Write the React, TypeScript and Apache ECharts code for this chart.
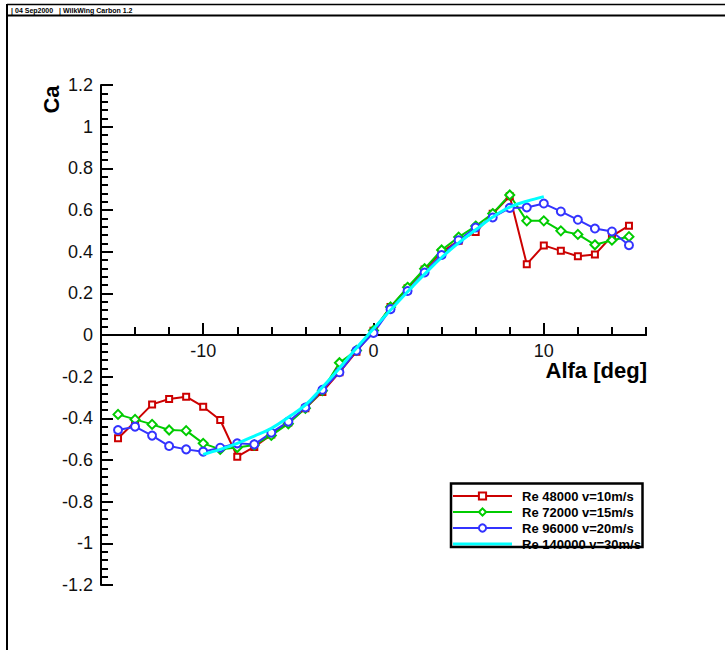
import React, { useEffect, useRef } from "react";
import * as echarts from "echarts";

const ALFA = [-15, -14, -13, -12, -11, -10, -9, -8, -7, -6, -5, -4, -3, -2, -1, 0, 1, 2, 3, 4, 5, 6, 7, 8, 9, 10, 11, 12, 13, 14, 15];
const CA_RE48 = [-0.496, -0.416, -0.333, -0.307, -0.296, -0.344, -0.408, -0.584, -0.537, -0.478, -0.42, -0.352, -0.273, -0.179, -0.08, 0.02, 0.135, 0.225, 0.314, 0.398, 0.453, 0.494, 0.582, 0.666, 0.34, 0.43, 0.404, 0.378, 0.386, 0.475, 0.525];
const CA_RE72 = [-0.381, -0.405, -0.429, -0.456, -0.459, -0.52, -0.549, -0.54, -0.528, -0.482, -0.426, -0.352, -0.267, -0.133, -0.074, 0.022, 0.135, 0.229, 0.318, 0.408, 0.47, 0.523, 0.583, 0.672, 0.548, 0.548, 0.5, 0.483, 0.433, 0.455, 0.472];
const CA_RE96 = [-0.456, -0.44, -0.483, -0.533, -0.549, -0.56, -0.541, -0.52, -0.525, -0.469, -0.416, -0.348, -0.263, -0.179, -0.075, 0.01, 0.124, 0.211, 0.3, 0.384, 0.455, 0.516, 0.564, 0.61, 0.612, 0.631, 0.593, 0.553, 0.511, 0.497, 0.431];
const ALFA_RE140 = [-10, -9, -8, -7, -6, -5, -4, -3, -2, -1, 0, 1, 2, 3, 4, 5, 6, 7, 8, 9, 10];
const CA_RE140 = [-0.573, -0.549, -0.52, -0.485, -0.448, -0.395, -0.336, -0.251, -0.16, -0.062, 0.03, 0.12, 0.208, 0.292, 0.372, 0.442, 0.505, 0.566, 0.614, 0.642, 0.664];

const SERIES_NAMES = ["Re 48000 v=10m/s", "Re 72000 v=15m/s", "Re 96000 v=20m/s", "Re 140000 v=30m/s"];
const X_LABELS = [-10, 0, 10];
const X_MAJOR_TICKS = [-10, 0, 10];
const X_MIN = -16;
const X_MAX = 16;
const Y_MIN = -1.2;
const Y_MAX = 1.2;
const HEADER_DATE = "04 Sep2000";
const HEADER_TITLE = "WilkWing Carbon 1.2";

const FONT = "'Liberation Sans', Arial, Helvetica, sans-serif";

const pairs = (xs: number[], ys: number[]) => xs.map((x, i) => [x, ys[i]]);

export default function App() {
  const ref = useRef<HTMLDivElement>(null);
  useEffect(() => {
    if (!ref.current) return;
    const chart = echarts.init(ref.current, null, { renderer: "svg" });
    const axisLineStyle = { color: "#000", width: 2 };
    const gridH = 500;
    const gridBox = { left: 101, top: 85, width: 545, height: gridH, containLabel: false };
    // move the x axis from the grid bottom up to Ca = 0
    const zeroOffset = -((0 - Y_MIN) / (Y_MAX - Y_MIN)) * gridH;
    const markerSeries = (name: string, data: number[][], color: string, symbol: string, size: number) => ({
      name,
      type: "line",
      data,
      symbol,
      symbolSize: size,
      showSymbol: true,
      lineStyle: { color, width: 2 },
      itemStyle: { color, borderColor: color, borderWidth: 1.7 },
      z: 3,
    });
    chart.setOption({
      animation: false,
      backgroundColor: "#fff",
      textStyle: { fontFamily: FONT },
      grid: [gridBox, { ...gridBox }],
      xAxis: [
        {
          type: "value",
          gridIndex: 0,
          min: X_MIN,
          max: X_MAX,
          interval: 2,
          position: "bottom",
          offset: zeroOffset,
          axisLine: { show: true, onZero: false, lineStyle: axisLineStyle },
          axisTick: { show: true, inside: true, length: 8, lineStyle: { color: "#000", width: 2 } },
          axisLabel: { customValues: X_LABELS, margin: 7, fontSize: 18, color: "#111", fontFamily: FONT },
          splitLine: { show: false },
        },
        {
          type: "value",
          gridIndex: 1,
          min: X_MIN,
          max: X_MAX,
          position: "bottom",
          offset: zeroOffset,
          axisLine: { show: true, onZero: false, lineStyle: axisLineStyle },
          axisTick: { show: true, inside: true, length: 12, customValues: X_MAJOR_TICKS, lineStyle: { color: "#000", width: 2 } },
          axisLabel: { show: false },
          splitLine: { show: false },
        },
      ],
      yAxis: [
        {
          type: "value",
          gridIndex: 0,
          min: Y_MIN,
          max: Y_MAX,
          interval: 0.2,
          axisLine: { show: true, onZero: false, lineStyle: axisLineStyle },
          axisTick: { show: true, inside: true, length: 12, lineStyle: { color: "#000", width: 2 } },
          minorTick: { show: true, splitNumber: 5, length: 7, lineStyle: { color: "#000", width: 2 } },
          axisLabel: { margin: 8, fontSize: 18, color: "#111", fontFamily: FONT },
          splitLine: { show: false },
          minorSplitLine: { show: false },
        },
        {
          type: "value",
          gridIndex: 1,
          min: Y_MIN,
          max: Y_MAX,
          interval: 0.2,
          axisLine: { show: false, onZero: false },
          axisTick: { show: false },
          axisLabel: { show: false },
          splitLine: { show: false },
        },
      ],
      legend: {
        orient: "vertical",
        left: 452,
        top: 489.5,
        padding: 0,
        itemWidth: 59,
        itemHeight: 9,
        itemGap: 3,
        selectedMode: false,
        textStyle: { fontSize: 13, fontWeight: "bold", color: "#000", fontFamily: FONT, lineHeight: 13, padding: [0, 0, 0, 5] },
        data: [
          { name: SERIES_NAMES[0] },
          { name: SERIES_NAMES[1] },
          { name: SERIES_NAMES[2] },
          { name: SERIES_NAMES[3], icon: "path://M0 0H59V3H0Z" },
        ],
      },
      series: [
        markerSeries(SERIES_NAMES[0], pairs(ALFA, CA_RE48), "#cc0000", "emptyRect", 6),
        markerSeries(SERIES_NAMES[1], pairs(ALFA, CA_RE72), "#00cc00", "emptyDiamond", 9),
        markerSeries(SERIES_NAMES[2], pairs(ALFA, CA_RE96), "#3333ff", "emptyCircle", 8),
        {
          name: SERIES_NAMES[3],
          type: "line",
          data: pairs(ALFA_RE140, CA_RE140),
          symbol: "none",
          showSymbol: false,
          smooth: 0.4,
          lineStyle: { color: "#00ffff", width: 3 },
          itemStyle: { color: "#00ffff" },
          z: 4,
        },
      ],
      graphic: [
        { type: "line", shape: { x1: 7, y1: 4.5, x2: 725, y2: 4.5 }, style: { stroke: "#000", lineWidth: 1.5 }, z: 10 },
        { type: "line", shape: { x1: 7, y1: 15.5, x2: 725, y2: 15.5 }, style: { stroke: "#000", lineWidth: 2 }, z: 10 },
        { type: "line", shape: { x1: 7, y1: 4, x2: 7, y2: 650 }, style: { stroke: "#000", lineWidth: 2 }, z: 10 },
        { type: "text", x: 11, y: 10, style: { text: "|", font: `bold 7px ${FONT}`, fill: "#000", verticalAlign: "middle" }, z: 10 },
        { type: "text", x: 15, y: 10, style: { text: HEADER_DATE, font: `bold 7px ${FONT}`, fill: "#000", verticalAlign: "middle" }, z: 10 },
        { type: "text", x: 59, y: 10, style: { text: "|", font: `bold 7px ${FONT}`, fill: "#000", verticalAlign: "middle" }, z: 10 },
        { type: "text", x: 63, y: 10, style: { text: HEADER_TITLE, font: `bold 7px ${FONT}`, fill: "#000", verticalAlign: "middle" }, z: 10 },
        {
          type: "text",
          x: 51,
          y: 99.5,
          rotation: Math.PI / 2,
          style: { text: "Ca", font: `bold 22px ${FONT}`, fill: "#000", align: "center", verticalAlign: "middle" },
          z: 10,
        },
        {
          type: "text",
          x: 647,
          y: 370,
          style: { text: "Alfa [deg]", font: `bold 22px ${FONT}`, fill: "#000", align: "right", verticalAlign: "middle" },
          z: 10,
        },
        {
          type: "rect",
          shape: { x: 451, y: 483.5, width: 191.5, height: 63.5 },
          style: { fill: "none", stroke: "#000", lineWidth: 2.5 },
          z: 20,
        },
      ],
    });
    return () => chart.dispose();
  }, []);
  return <div ref={ref} style={{ position: "fixed", left: 0, top: 0, width: 725, height: 650 }} />;
}
